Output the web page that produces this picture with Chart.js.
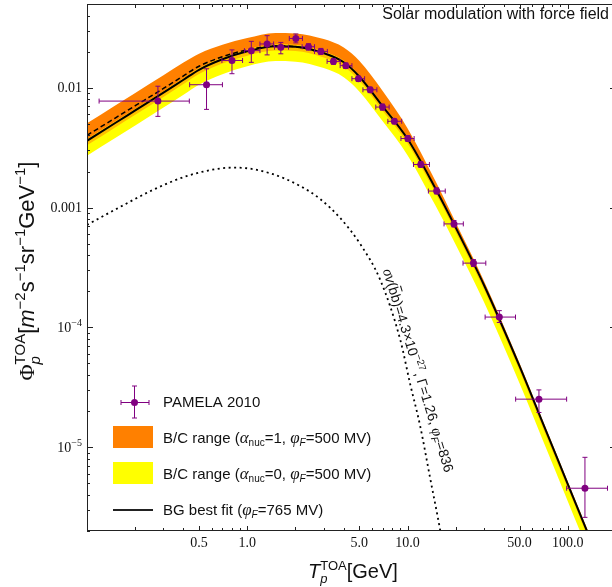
<!DOCTYPE html>
<html>
<head>
<meta charset="utf-8">
<script src="https://cdn.jsdelivr.net/npm/chart.js@4.4.0/dist/chart.umd.min.js"></script>
<style>
  html, body { margin: 0; padding: 0; overflow: hidden; background: #fff; }
  #wrap { width: 620px; height: 587px; }
</style>
</head>
<body>
<div id="wrap"><canvas id="flux" width="620" height="587"></canvas></div>
<script>
// PAMELA 2010 proton flux: kinetic energy [GeV], flux and error ranges
const pamT    = [0.277, 0.557, 0.803, 1.06, 1.33, 1.62, 2.01, 2.41, 2.88, 3.45, 4.12, 4.94, 5.85, 6.98, 8.28, 10.05, 12.1, 15.2, 19.5, 25.8, 37.4, 66.1, 128];
const pamFlux = [0.00774, 0.0106, 0.0169, 0.0204, 0.0232, 0.0218, 0.0258, 0.0220, 0.0201, 0.0166, 0.0153, 0.0119, 0.00962, 0.0069, 0.00525, 0.00377, 0.00229, 0.001374, 0.000731, 0.000344, 0.000122, 2.52e-5, 4.55e-6];
const pamTlo  = [0.119, 0.437, 0.695, 0.96, 1.2, 1.48, 1.83, 2.2, 2.63, 3.15, 3.8, 4.5, 5.27, 6.34, 7.54, 9.1, 10.9, 13.5, 16.9, 22.2, 30.5, 47.3, 98.4];
const pamThi  = [0.435, 0.70, 0.935, 1.2, 1.46, 1.81, 2.21, 2.63, 3.16, 3.8, 4.5, 5.4, 6.44, 7.68, 9.2, 11.0, 13.7, 17.2, 22.3, 30.8, 47.2, 98.4, 177];
const pamFlo  = [0.00577, 0.0066, 0.0131, 0.0163, 0.0188, 0.0192, 0.0237, 0.0206, 0.019, 0.0157, 0.0145, 0.0113, 0.0091, 0.0065, 0.0050, 0.00357, 0.00217, 0.0013, 0.00069, 0.000322, 0.00011, 1.95e-5, 2.6e-6];
const pamFhi  = [0.0103, 0.0144, 0.0207, 0.0244, 0.0272, 0.0239, 0.0281, 0.0233, 0.0213, 0.0175, 0.0161, 0.0125, 0.0101, 0.0073, 0.0055, 0.00398, 0.00242, 0.00146, 0.00078, 0.000368, 0.000138, 3.01e-5, 8.24e-6];

// model curves on a common energy grid
const gridT     = [0.1, 0.15, 0.2, 0.3, 0.4, 0.5, 0.7, 1, 1.5, 2, 3, 4, 5, 7, 10, 15, 20, 30, 50, 70, 100, 150, 200];
const bgFit     = [0.00361, 0.00508, 0.00647, 0.0091, 0.01167, 0.01413, 0.01729, 0.02015, 0.02225, 0.02203, 0.01945, 0.01633, 0.01242, 0.0070, 0.00375, 0.00143, 0.00068, 0.000226, 4.75e-5, 1.58e-5, 4.93e-6, 1.31e-6, 5.1e-7];
const bgDashed  = [0.00401, 0.00559, 0.00708, 0.00987, 0.01258, 0.01512, 0.01815, 0.0207, 0.02236, 0.02205, 0.01945];
const orangeHi  = [0.00505, 0.00711, 0.00906, 0.01274, 0.01622, 0.01922, 0.02282, 0.02599, 0.0287, 0.02842, 0.02550, 0.02170, 0.01680, 0.00940, 0.0046, 0.00165, 0.000750, 0.000244, 5.04e-5, 1.66e-5, 5.18e-6, 1.38e-6, 5.4e-7];
const orangeLo  = [0.00332, 0.00467, 0.00595, 0.00837, 0.01074, 0.013, 0.01591, 0.01854, 0.02047, 0.02027, 0.01789, 0.01502, 0.01143, 0.00644, 0.00345, 0.001316, 0.000626, 0.000208, 4.37e-5, 1.45e-5, 4.54e-6, 1.21e-6, 4.7e-7];
const yellowHi  = [0.00372, 0.00523, 0.00666, 0.00937, 0.01202, 0.01455, 0.01781, 0.02075, 0.02292, 0.02269, 0.02003, 0.01682, 0.01279, 0.00721, 0.00386, 0.001473, 0.0007, 0.000233, 4.89e-5, 1.63e-5, 5.08e-6, 1.35e-6, 5.25e-7];
const yellowLo  = [0.00271, 0.00381, 0.00485, 0.00683, 0.00875, 0.0106, 0.01297, 0.01511, 0.01669, 0.01652, 0.01459, 0.01225, 0.00932, 0.00525, 0.00274, 0.00103, 0.00049, 0.000163, 3.42e-5, 1.14e-5, 3.55e-6, 9.4e-7, 3.7e-7];

// dark matter contribution
const dmT    = [0.1, 0.162, 0.262, 0.423, 0.682, 0.866, 1.4, 2.14, 2.85, 3.8, 5.06, 6.75, 9.0, 10.4, 12.0, 13.8, 16.0, 18.4];
const dmFlux = [0.000717, 0.001017, 0.001419, 0.00184, 0.002123, 0.002154, 0.001928, 0.001512, 0.001179, 0.000819, 0.000498, 0.00025, 7.93e-5, 3.35e-5, 1.50e-5, 5.65e-6, 2.02e-6, 6.6e-7];

const xTickLabels = [0.5, 1, 5, 10, 50, 100];
const yTickLabels = [1e-2, 1e-3, 1e-4, 1e-5];

const SANS = '"Liberation Sans", Arial, sans-serif';
const SERIF = '"Liberation Serif", "Times New Roman", serif';
const PURPLE = 'rgb(128,0,128)';
const ORANGE = 'rgb(255,128,0)';
const YELLOW = 'rgb(255,255,0)';
const AMBER = 'rgb(255,192,0)';

function font(size, style, fam) { return (style ? style + ' ' : '') + size + 'px ' + fam; }
function txt(t, f, dy, bar) { return { t: t, f: f, dy: dy || 0, bar: !!bar }; }
function stack(sub, sup, fb, fp, dyb, dyp) { return { sub: sub, sup: sup, fb: fb, fp: fp, dyb: dyb, dyp: dyp }; }

function partWidth(ctx, p) {
  if (p.t !== undefined) { ctx.font = p.f; return ctx.measureText(p.t).width; }
  ctx.font = p.fb; const a = ctx.measureText(p.sub).width;
  ctx.font = p.fp; const b = ctx.measureText(p.sup).width;
  return Math.max(a, b);
}
function richWidth(ctx, parts) {
  let w = 0;
  parts.forEach(function(p){ w += partWidth(ctx, p); });
  return w;
}
function drawRich(ctx, x, y, parts, align) {
  let cx = x;
  const w = richWidth(ctx, parts);
  if (align === 'right') cx -= w;
  if (align === 'center') cx -= w / 2;
  ctx.textAlign = 'left';
  ctx.textBaseline = 'alphabetic';
  parts.forEach(function(p){
    const pw = partWidth(ctx, p);
    if (p.t !== undefined) {
      ctx.font = p.f;
      ctx.fillText(p.t, cx, y + p.dy);
      if (p.bar) {
        ctx.save();
        ctx.lineWidth = 1;
        ctx.strokeStyle = ctx.fillStyle;
        ctx.beginPath();
        ctx.moveTo(cx + 1, y - 12.5);
        ctx.lineTo(cx + pw - 1, y - 12.5);
        ctx.stroke();
        ctx.restore();
      }
    } else {
      ctx.font = p.fb; ctx.fillText(p.sub, cx, y + p.dyb);
      ctx.font = p.fp; ctx.fillText(p.sup, cx, y + p.dyp);
    }
    cx += pw;
  });
}

function errorBar(ctx, x, y, x0, x1, y0, y1, cap) {
  ctx.beginPath();
  ctx.moveTo(x0, y); ctx.lineTo(x1, y);
  ctx.moveTo(x0, y - cap); ctx.lineTo(x0, y + cap);
  ctx.moveTo(x1, y - cap); ctx.lineTo(x1, y + cap);
  ctx.moveTo(x, y0); ctx.lineTo(x, y1);
  ctx.moveTo(x - cap, y0); ctx.lineTo(x + cap, y0);
  ctx.moveTo(x - cap, y1); ctx.lineTo(x + cap, y1);
  ctx.stroke();
}

function logTicks(min, max) {
  const out = [];
  for (let e = -7; e <= 3; e++) {
    for (let m = 1; m <= 9; m++) {
      const v = m * Math.pow(10, e);
      if (v >= min * 0.999 && v <= max * 1.001) out.push({ v: v, m: m });
    }
  }
  return out;
}

const framePlugin = {
  id: 'frame',
  beforeDatasetDraw: function(chart, args) {
    if (args.index !== 0) return;
    const ctx = chart.ctx, xs = chart.scales.x, ys = chart.scales.y, a = chart.chartArea;
    ctx.save();
    ctx.beginPath();
    ctx.rect(a.left, a.top, a.right - a.left, a.bottom - a.top);
    ctx.clip();
    ctx.strokeStyle = PURPLE;
    ctx.lineWidth = 1;
    for (let i = 0; i < pamT.length; i++) {
      const px = xs.getPixelForValue(pamT[i]), py = ys.getPixelForValue(pamFlux[i]);
      errorBar(ctx, px, py,
        xs.getPixelForValue(pamTlo[i]), xs.getPixelForValue(pamThi[i]),
        ys.getPixelForValue(pamFlo[i]), ys.getPixelForValue(pamFhi[i]), 2.5);
    }
    ctx.restore();
  },
  afterDatasetsDraw: function(chart) {
    const ctx = chart.ctx, xs = chart.scales.x, ys = chart.scales.y;
    // label running along the dark matter curve
    const ax = xs.getPixelForValue(7.0), ay = ys.getPixelForValue(3.0e-4);
    ctx.save();
    ctx.translate(ax, ay);
    ctx.rotate(73 * Math.PI / 180);
    ctx.fillStyle = '#111';
    const F14 = font(14, '', SANS), F14i = font(14, 'italic', SANS), F10 = font(10, '', SANS), F10i = font(10, 'italic', SANS);
    const G14 = font(15, 'italic', SERIF);
    drawRich(ctx, 0, 0, [
      txt('σ', G14), txt('v', F14i), txt('(', F14), txt('b', F14, 0, true), txt('b)=4.3×10', F14),
      txt('−27', F10, -6), txt(', Γ=1.26, ', F14), txt('φ', G14), txt('F', F10i, 3), txt('=836', F14)
    ], 'left');
    ctx.restore();
  },
  afterDraw: function(chart) {
    const ctx = chart.ctx, xs = chart.scales.x, ys = chart.scales.y, a = chart.chartArea;
    ctx.save();
    ctx.strokeStyle = '#222';
    ctx.lineWidth = 1;
    ctx.strokeRect(a.left + 0.5, a.top + 0.5, a.right - a.left - 1, a.bottom - a.top - 1);

    // ticks on all four sides, pointing inwards
    ctx.beginPath();
    logTicks(xs.min, xs.max).forEach(function(t){
      const px = Math.round(xs.getPixelForValue(t.v)) + 0.5;
      const len = (t.m === 1 || t.m === 5) ? 5 : (t.m === 2 ? 4 : 3);
      ctx.moveTo(px, a.bottom); ctx.lineTo(px, a.bottom - len);
      ctx.moveTo(px, a.top); ctx.lineTo(px, a.top + len);
    });
    logTicks(ys.min, ys.max).forEach(function(t){
      const py = Math.round(ys.getPixelForValue(t.v)) + 0.5;
      const len = t.m === 1 ? 6 : 3;
      ctx.moveTo(a.left, py); ctx.lineTo(a.left + len, py);
      ctx.moveTo(a.right, py); ctx.lineTo(a.right - len, py);
    });
    ctx.stroke();

    // tick labels
    ctx.fillStyle = '#111';
    const S14 = font(14, '', SERIF), S10 = font(10, '', SERIF);
    xTickLabels.forEach(function(v){
      drawRich(ctx, xs.getPixelForValue(v), a.bottom + 16, [txt(v.toFixed(1), S14)], 'center');
    });
    yTickLabels.forEach(function(v){
      const py = ys.getPixelForValue(v) + 4.5;
      const e = Math.round(Math.log10(v));
      const parts = e >= -3 ? [txt(v.toFixed(-e), S14)] : [txt('10', S14), txt('−' + (-e), S10, -6)];
      drawRich(ctx, a.left - 5, py, parts, 'right');
    });

    // axis titles
    const F22 = font(22, '', SANS), F22i = font(22, 'italic', SANS), F15 = font(15, '', SANS), F15i = font(15, 'italic', SANS);
    const F20 = font(20, '', SANS), F20i = font(20, 'italic', SANS), F13 = font(13, '', SANS), F13i = font(13, 'italic', SANS);
    drawRich(ctx, 308, 578, [txt('T', F20i), stack('p', 'TOA', F13i, F13, 5, -8), txt('[GeV]', F20)], 'left');
    ctx.save();
    ctx.translate(34, 271);
    ctx.rotate(-Math.PI / 2);
    drawRich(ctx, 0, 0, [
      txt('Φ', font(22, '', SERIF)), stack('p', 'TOA', F15i, F15, 6, -9), txt('[', F22), txt('m', F22i),
      txt('−2', F15, -9), txt('s', F22), txt('−1', F15, -9), txt('sr', F22), txt('−1', F15, -9),
      txt('GeV', F22), txt('−1', F15, -9), txt(']', F22)
    ], 'center');
    ctx.restore();

    // title inside the frame
    drawRich(ctx, 609, 19, [txt('Solar modulation with force field', font(16, '', SANS))], 'right');

    // legend
    const L15 = font(15, '', SANS), L10 = font(10, '', SANS), L10i = font(10, 'italic', SANS), G16 = font(17, 'italic', SERIF);
    ctx.strokeStyle = PURPLE;
    ctx.lineWidth = 1;
    errorBar(ctx, 134.5, 402.5, 121, 149, 386, 418, 2.5);
    ctx.fillStyle = PURPLE;
    ctx.beginPath(); ctx.arc(134.5, 402.5, 3.5, 0, 2 * Math.PI); ctx.fill();
    ctx.fillStyle = ORANGE; ctx.fillRect(113, 426, 40, 22);
    ctx.fillStyle = YELLOW; ctx.fillRect(113, 462, 40, 22);
    ctx.strokeStyle = '#222'; ctx.lineWidth = 2;
    ctx.beginPath(); ctx.moveTo(113, 510); ctx.lineTo(153, 510); ctx.stroke();

    ctx.fillStyle = '#111';
    drawRich(ctx, 163, 407, [txt('PAMELA 2010', L15)], 'left');
    drawRich(ctx, 163, 443, [txt('B/C range (', L15), txt('α', G16), txt('nuc', L10, 3), txt('=1, ', L15),
      txt('φ', G16), txt('F', L10i, 3), txt('=500 MV)', L15)], 'left');
    drawRich(ctx, 163, 479, [txt('B/C range (', L15), txt('α', G16), txt('nuc', L10, 3), txt('=0, ', L15),
      txt('φ', G16), txt('F', L10i, 3), txt('=500 MV)', L15)], 'left');
    drawRich(ctx, 163, 515, [txt('BG best fit (', L15), txt('φ', G16), txt('F', L10i, 3), txt('=765 MV)', L15)], 'left');
    ctx.restore();
  }
};

function pts(xs, ys) { return ys.map(function(y, i){ return { x: xs[i], y: y }; }); }

const curve = { showLine: true, pointRadius: 0, pointHoverRadius: 0, cubicInterpolationMode: 'monotone', fill: false, borderWidth: 0 };

new Chart(document.getElementById('flux'), {
  type: 'line',
  data: {
    datasets: [
      { label: 'PAMELA 2010', data: pts(pamT, pamFlux), showLine: false, pointRadius: 3.5,
        pointBackgroundColor: PURPLE, pointBorderWidth: 0, order: 0 },
      Object.assign({}, curve, { label: 'BG best fit', data: pts(gridT, bgFit), borderColor: '#000', borderWidth: 2, order: 1 }),
      Object.assign({}, curve, { label: 'BG dashed', data: pts(gridT, bgDashed), borderColor: '#000', borderWidth: 1.5, borderDash: [5, 3], order: 2 }),
      Object.assign({}, curve, { label: 'DM', data: pts(dmT, dmFlux), borderColor: '#000', borderWidth: 1.8, borderDash: [2, 3.5], order: 3 }),
      Object.assign({}, curve, { label: 'overlap', data: pts(gridT, yellowHi), fill: 5, backgroundColor: AMBER, order: 4 }),
      Object.assign({}, curve, { label: 'overlap lo', data: pts(gridT, orangeLo), order: 5 }),
      Object.assign({}, curve, { label: 'B/C a=0', data: pts(gridT, yellowHi), fill: 7, backgroundColor: YELLOW, order: 6 }),
      Object.assign({}, curve, { label: 'B/C a=0 lo', data: pts(gridT, yellowLo), order: 7 }),
      Object.assign({}, curve, { label: 'B/C a=1', data: pts(gridT, orangeHi), fill: 9, backgroundColor: ORANGE, order: 8 }),
      Object.assign({}, curve, { label: 'B/C a=1 lo', data: pts(gridT, orangeLo), order: 9 })
    ]
  },
  options: {
    responsive: false,
    animation: false,
    devicePixelRatio: 1,
    events: [],
    layout: { padding: { left: 87, top: 3, right: 4, bottom: 56 } },
    scales: {
      x: { type: 'logarithmic', min: 0.1, max: 200, display: false },
      y: { type: 'logarithmic', min: 2e-6, max: 0.05, display: false }
    },
    plugins: { legend: { display: false }, tooltip: { enabled: false } }
  },
  plugins: [framePlugin]
});
</script>
</body>
</html>
